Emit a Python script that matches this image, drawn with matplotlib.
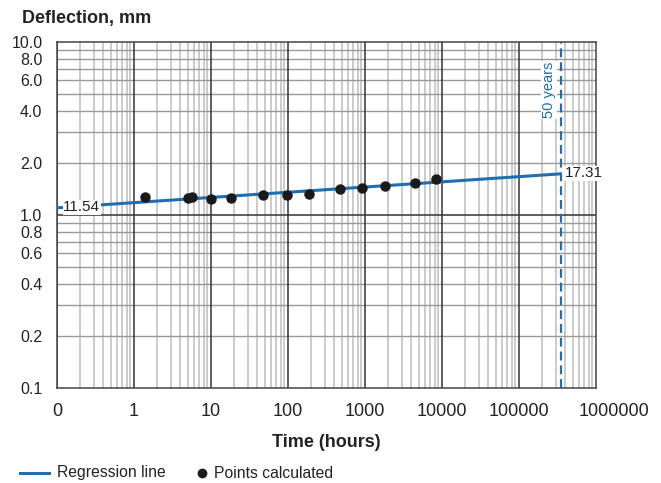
import numpy as np
import matplotlib.pyplot as plt
from matplotlib.lines import Line2D
import matplotlib.transforms as mtransforms

plt.rcParams['font.family'] = ['Liberation Sans', 'DejaVu Sans']

# data
time_h = [1.4, 5.0, 5.6, 10, 18, 48, 96, 190, 470, 920, 1800, 4400, 8400]
deflection = [1.27, 1.26, 1.27, 1.235, 1.25, 1.31, 1.30, 1.32, 1.41, 1.43, 1.47, 1.54, 1.61]

fifty_years = 350000   # where the dashed marker sits on the chart

reg_x = [0.1, fifty_years]
reg_y = [1.10, 1.73]
reg_labels = ['11.54', '17.31']

y_ticks = [0.1, 0.2, 0.4, 0.6, 0.8, 1.0, 2.0, 4.0, 6.0, 8.0, 10.0]
x_ticks = [0.1, 1, 10, 100, 1000, 10000, 100000, 1000000]
x_ticklabels = ['0', '1', '10', '100', '1000', '10000', '100000', '1000000']

blue = '#1f6eb0'

fig = plt.figure(figsize=(6.61, 4.83), dpi=100)
ax = fig.add_axes([57 / 661, 1 - 388 / 483, 539 / 661, 346 / 483])
ax.set_xscale('log')
ax.set_yscale('log')
ax.set_xlim(0.1, 1e6)
ax.set_ylim(0.1, 10)

# grid lines
for dec in [0.1, 1, 10, 100, 1000, 10000, 100000]:
    for m in range(2, 10):
        ax.axvline(dec * m, color='#bdbdbd', lw=1.1, zorder=1)
    ax.axvline(dec, color='#333333', lw=1.1, zorder=2)
for dec in [0.1, 1]:
    for m in range(2, 10):
        ax.axhline(dec * m, color='#999999', lw=1.0, zorder=1)
ax.axhline(1.0, color='#333333', lw=1.1, zorder=2)

# regression line and points
ax.plot(reg_x, reg_y, color=blue, lw=2.2, zorder=4, solid_capstyle='butt')
ax.plot(time_h, deflection, 'o', color='#1a1a1a', ms=6.5, zorder=5)

ax.axvline(fifty_years, color=blue, lw=1.6, ls=(0, (4, 2.2)), zorder=3)
ax.text(fifty_years * 0.70, 5.3, '50 years', rotation=90, color=blue, fontsize=10.5,
        ha='center', va='center', zorder=6,
        bbox=dict(facecolor='white', edgecolor='none', pad=0.5))

ax.text(0.12, reg_y[0] * 1.01, reg_labels[0], fontsize=11, color='#222222',
        ha='left', va='center', zorder=6,
        bbox=dict(facecolor='white', edgecolor='none', pad=0.3))
ax.text(fifty_years * 1.12, reg_y[1] * 1.01, reg_labels[1], fontsize=11, color='#222222',
        ha='left', va='center', zorder=6, clip_on=False,
        bbox=dict(facecolor='white', edgecolor='none', pad=0.3))

ax.set_yticks(y_ticks)
ax.set_yticklabels(['%.1f' % v for v in y_ticks])
ax.yaxis.set_minor_locator(plt.NullLocator())
ax.set_xticks(x_ticks)
ax.set_xticklabels(x_ticklabels)
ax.xaxis.set_minor_locator(plt.NullLocator())
ax.tick_params(axis='both', length=0, colors='#222222')
ax.tick_params(axis='y', pad=10.5, labelsize=11.5)
ax.tick_params(axis='x', pad=11, labelsize=13)

# push the last x label right like the original
last = ax.get_xticklabels()[-1]
last.set_transform(last.get_transform() + mtransforms.ScaledTranslation(18 / 100, 0, fig.dpi_scale_trans))

for s in ax.spines.values():
    s.set_color('#444444')
    s.set_linewidth(1.1)
    s.set_zorder(3)

ax.set_xlabel('Time (hours)', fontsize=13, fontweight='bold', labelpad=10, color='#222222')
fig.text(22 / 661, 1 - 18 / 483, 'Deflection, mm', fontsize=13, fontweight='bold',
         ha='left', va='center', color='#222222')

# legend drawn by hand to keep the original spacing
ly = 1 - 473 / 483
fig.add_artist(Line2D([20 / 661, 49 / 661], [ly, ly], color=blue, lw=2.2))
fig.text(57 / 661, ly, 'Regression line', fontsize=11.3, ha='left', va='center', color='#222222')
fig.add_artist(Line2D([202 / 661], [ly], marker='o', ls='none', color='#1a1a1a', ms=6))
fig.text(214 / 661, ly, 'Points calculated', fontsize=11.3, ha='left', va='center', color='#222222')

fig.savefig('out.png', dpi=100)
